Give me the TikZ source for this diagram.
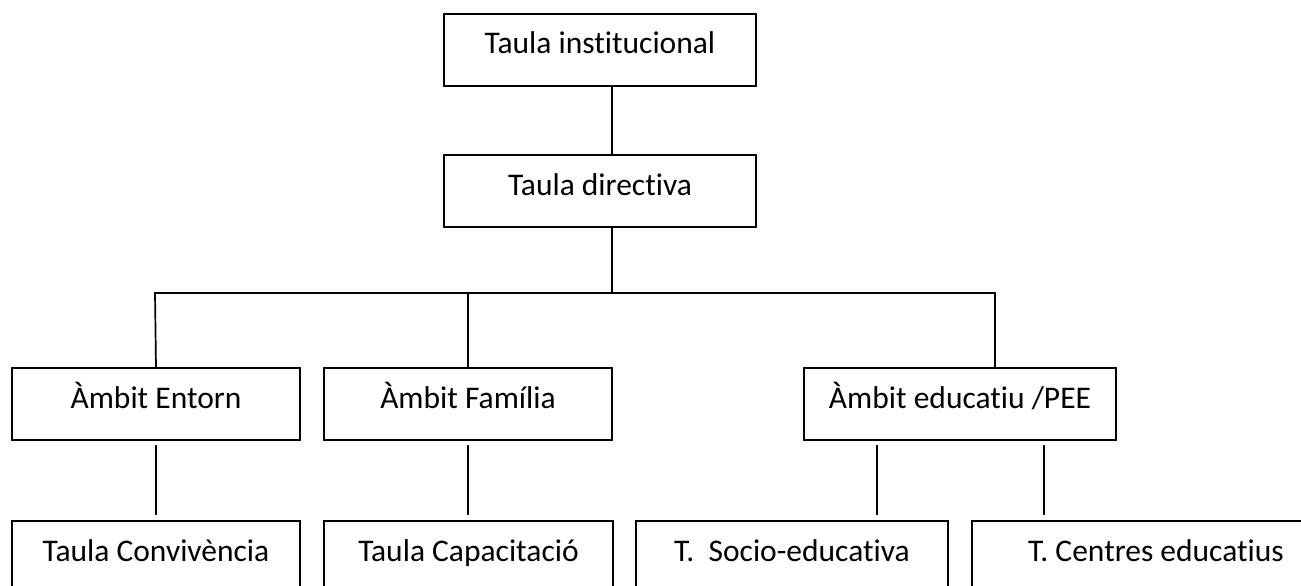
\documentclass[tikz,border=0pt]{standalone}
\usepackage{fontspec}
\setmainfont{Carlito}[Ligatures={NoCommon}]
\begin{document}
\begin{tikzpicture}[x=1pt,y=-1pt,
  box/.style={draw=black, line width=2pt, inner sep=0pt, text height=40pt, text depth=32pt,
              anchor=north west, font=\fontsize{31.5}{38}\selectfont},
  conn/.style={draw=black, line width=1.7pt},
  conngap/.style={conn, shorten <=4pt, shorten >=5pt}]
\useasboundingbox (0,0) rectangle (1301,586);
\clip (0,0) rectangle (1301,586);
\fill[white] (0,0) rectangle (1301,586);
% boxes
\node[box, minimum width=312pt] (inst) at (443,13) {Taula institucional};
\node[box, minimum width=312pt] (dir) at (443,154) {Taula directiva};
\node[box, minimum width=288pt] (ent) at (11,367) {Àmbit Entorn};
\node[box, minimum width=288pt] (fam) at (323,367) {Àmbit Família};
\node[box, minimum width=312pt] (edu) at (803,367) {Àmbit educatiu /PEE};
\node[box, minimum width=288pt] (conv) at (11,520) {Taula Convivència};
\node[box, minimum width=289pt] (cap) at (323,520) {Taula Capacitació};
\node[box, minimum width=312pt] (soc) at (635,520) {T.\ \ Socio-educativa};
\node[box, minimum width=368pt] (cen) at (971,520) {T. Centres educatius};
% bus coordinates
\coordinate (busL) at (155,293);
\coordinate (busR) at (995,293);
% upper connectors
\draw[conn] ([xshift=12pt]inst.south) -- ([xshift=12pt]dir.north);
\draw[conn] ([xshift=12pt]dir.south) -- ([xshift=12pt]dir.south |- busL);
\draw[conn] (ent.north) -- (busL) -- (busR) -- (busR |- edu.north);
\draw[conn] (fam.north) -- (fam.north |- busL);
% lower connectors
\draw[conngap] (ent.south) -- (conv.north);
\draw[conngap] (fam.south) -- (fam.south |- cap.north);
\draw[conngap] ([xshift=-83pt]edu.south) -- ([xshift=-83pt]edu.south |- soc.north);
\draw[conngap] ([xshift=84pt]edu.south) -- ([xshift=84pt]edu.south |- cen.north);
\end{tikzpicture}
\end{document}
